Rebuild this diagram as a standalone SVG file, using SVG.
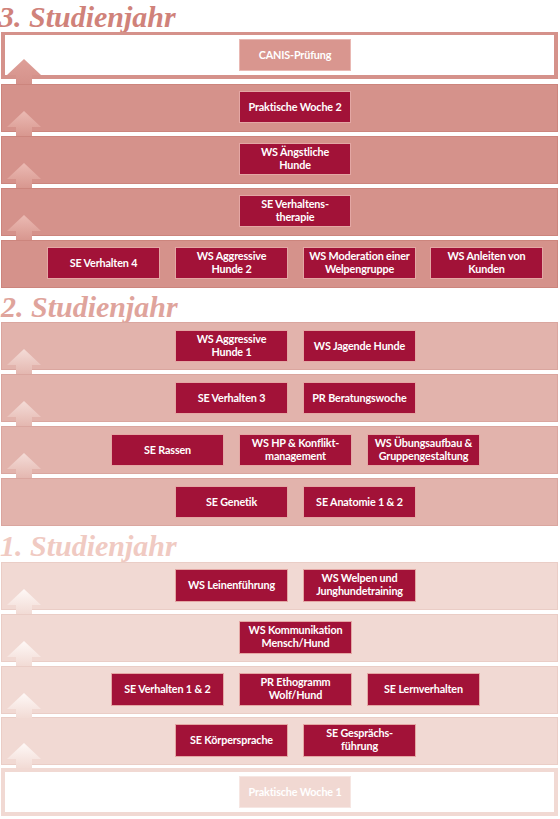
<svg xmlns="http://www.w3.org/2000/svg" xmlns:xlink="http://www.w3.org/1999/xlink" width="560" height="819" viewBox="0 0 560 819">
<style>
.title{font-family:"Liberation Serif",serif;font-style:italic;font-weight:bold;font-size:30px}
.b3{fill:#d5928b;stroke:#cc857d;stroke-width:1}
.b2{fill:#e2b3ac;stroke:#daa69f;stroke-width:1}
.b1{fill:#f1d9d3;stroke:#eacdc6;stroke-width:1}
.box{fill:#a21238;stroke:#e4a7a4;stroke-width:1}
.t{font-family:Lato,"Liberation Sans",sans-serif;font-weight:bold;font-size:10.8px;letter-spacing:-0.15px;fill:#ffffff;text-anchor:middle}
</style>
<defs>
<path id="arw" d="M24,27 L41,43 L32,43 L32,52 L16,52 L16,43 L7,43 Z"/>
<linearGradient id="g3a" x1="0" y1="0" x2="0" y2="1"><stop offset="0" stop-color="#de9f98"/><stop offset="1" stop-color="#d5928b"/></linearGradient>
<linearGradient id="g3" x1="0" y1="0" x2="0" y2="1"><stop offset="0" stop-color="#ebbab3"/><stop offset="1" stop-color="#d8978f"/></linearGradient>
<linearGradient id="g2" x1="0" y1="0" x2="0" y2="1"><stop offset="0" stop-color="#f4dcd7"/><stop offset="1" stop-color="#e4b7b0"/></linearGradient>
<linearGradient id="g1" x1="0" y1="0" x2="0" y2="1"><stop offset="0" stop-color="#fef8f6"/><stop offset="1" stop-color="#f2dbd5"/></linearGradient>
</defs>
<rect width="560" height="819" fill="#ffffff"/>

<g id="titles">
<text class="title" x="-1" y="27" fill="#d0827a">3. Studienjahr</text>
<text class="title" x="1" y="317" fill="#dfa49c">2. Studienjahr</text>
<text class="title" x="0" y="556" fill="#f0cac2">1. Studienjahr</text>
</g>

<g id="bands">
<rect x="1" y="32" width="557" height="47" fill="#d5928b"/>
<rect x="5" y="35" width="549" height="40" fill="#ffffff"/>
<rect class="b3" x="1.5" y="84.5" width="556" height="47"/>
<rect class="b3" x="1.5" y="136.5" width="556" height="47"/>
<rect class="b3" x="1.5" y="188.5" width="556" height="47"/>
<rect class="b3" x="1.5" y="240.5" width="556" height="47"/>

<rect class="b2" x="1.5" y="322.5" width="556" height="47"/>
<rect class="b2" x="1.5" y="374.5" width="556" height="47"/>
<rect class="b2" x="1.5" y="426.5" width="556" height="47"/>
<rect class="b2" x="1.5" y="478.5" width="556" height="47"/>

<rect class="b1" x="1.5" y="562.5" width="556" height="47"/>
<rect class="b1" x="1.5" y="614.5" width="556" height="47"/>
<rect class="b1" x="1.5" y="666.5" width="556" height="47"/>
<rect class="b1" x="1.5" y="717.5" width="556" height="47"/>
<rect x="1" y="768" width="557" height="48" fill="#f1d9d3"/>
<rect x="5" y="772" width="549" height="40" fill="#ffffff"/>
</g>

<g id="connectors">
<use xlink:href="#arw" transform="translate(0,32)" fill="url(#g3a)"/>
<use xlink:href="#arw" transform="translate(0,84)" fill="url(#g3)"/>
<use xlink:href="#arw" transform="translate(0,136)" fill="url(#g3)"/>
<use xlink:href="#arw" transform="translate(0,188)" fill="url(#g3)"/>
<use xlink:href="#arw" transform="translate(0,322)" fill="url(#g2)"/>
<use xlink:href="#arw" transform="translate(0,374)" fill="url(#g2)"/>
<use xlink:href="#arw" transform="translate(0,426)" fill="url(#g2)"/>
<use xlink:href="#arw" transform="translate(0,562)" fill="url(#g1)"/>
<use xlink:href="#arw" transform="translate(0,614)" fill="url(#g1)"/>
<use xlink:href="#arw" transform="translate(0,666)" fill="url(#g1)"/>
<use xlink:href="#arw" transform="translate(0,716)" fill="url(#g1)"/>
</g>

<!-- Year 3 -->
<g id="canis"><rect x="239.5" y="39.5" width="111" height="31" fill="#d9968f" stroke="#e9b8b3"/><text class="t" x="295" y="59">CANIS-Prüfung</text></g>
<g id="praktische-woche-2"><rect class="box" x="239.5" y="91.5" width="111" height="31"/><text class="t" x="295" y="111">Praktische Woche 2</text></g>
<g id="ws-aengstliche-hunde"><rect class="box" x="239.5" y="143.5" width="111" height="31"/><text class="t" x="295" y="156">WS Ängstliche</text><text class="t" x="295" y="169">Hunde</text></g>
<g id="se-verhaltenstherapie"><rect class="box" x="239.5" y="195.5" width="111" height="31"/><text class="t" x="295" y="208">SE Verhaltens-</text><text class="t" x="295" y="221">therapie</text></g>
<g id="se-verhalten-4"><rect class="box" x="47.5" y="247.5" width="112" height="31"/><text class="t" x="103.5" y="267">SE Verhalten 4</text></g>
<g id="ws-aggressive-hunde-2"><rect class="box" x="175.5" y="247.5" width="112" height="31"/><text class="t" x="231.5" y="260">WS Aggressive</text><text class="t" x="231.5" y="273">Hunde 2</text></g>
<g id="ws-moderation"><rect class="box" x="303.5" y="247.5" width="112" height="31"/><text class="t" x="359.5" y="260">WS Moderation einer</text><text class="t" x="359.5" y="273">Welpengruppe</text></g>
<g id="ws-anleiten"><rect class="box" x="430.5" y="247.5" width="112" height="31"/><text class="t" x="486.5" y="260">WS Anleiten von</text><text class="t" x="486.5" y="273">Kunden</text></g>

<!-- Year 2 -->
<g id="ws-aggressive-hunde-1"><rect class="box" x="175.5" y="330.5" width="112" height="31"/><text class="t" x="231.5" y="343">WS Aggressive</text><text class="t" x="231.5" y="356">Hunde 1</text></g>
<g id="ws-jagende-hunde"><rect class="box" x="303.5" y="330.5" width="112" height="31"/><text class="t" x="359.5" y="350">WS Jagende Hunde</text></g>
<g id="se-verhalten-3"><rect class="box" x="175.5" y="382.5" width="112" height="31"/><text class="t" x="231.5" y="402">SE Verhalten 3</text></g>
<g id="pr-beratungswoche"><rect class="box" x="303.5" y="382.5" width="112" height="31"/><text class="t" x="359.5" y="402">PR Beratungswoche</text></g>
<g id="se-rassen"><rect class="box" x="111.5" y="434.5" width="112" height="31"/><text class="t" x="167.5" y="454">SE Rassen</text></g>
<g id="ws-hp-konfliktmanagement"><rect class="box" x="239.5" y="434.5" width="112" height="31"/><text class="t" x="295.5" y="447">WS HP &amp; Konflikt-</text><text class="t" x="295.5" y="460">management</text></g>
<g id="ws-uebungsaufbau"><rect class="box" x="367.5" y="434.5" width="112" height="31"/><text class="t" x="423.5" y="447">WS Übungsaufbau &amp;</text><text class="t" x="423.5" y="460">Gruppengestaltung</text></g>
<g id="se-genetik"><rect class="box" x="175.5" y="486.5" width="112" height="31"/><text class="t" x="231.5" y="506">SE Genetik</text></g>
<g id="se-anatomie"><rect class="box" x="303.5" y="486.5" width="112" height="31"/><text class="t" x="359.5" y="506">SE Anatomie 1 &amp; 2</text></g>

<!-- Year 1 -->
<g id="ws-leinenfuehrung"><rect class="box" x="175.5" y="569.5" width="112" height="32"/><text class="t" x="231.5" y="589">WS Leinenführung</text></g>
<g id="ws-welpen"><rect class="box" x="303.5" y="569.5" width="112" height="32"/><text class="t" x="359.5" y="582">WS Welpen und</text><text class="t" x="359.5" y="595">Junghundetraining</text></g>
<g id="ws-kommunikation"><rect class="box" x="239.5" y="621.5" width="112" height="32"/><text class="t" x="295.5" y="634">WS Kommunikation</text><text class="t" x="295.5" y="647">Mensch/Hund</text></g>
<g id="se-verhalten-1-2"><rect class="box" x="111.5" y="673.5" width="112" height="32"/><text class="t" x="167.5" y="693">SE Verhalten 1 &amp; 2</text></g>
<g id="pr-ethogramm"><rect class="box" x="239.5" y="673.5" width="112" height="32"/><text class="t" x="295.5" y="686">PR Ethogramm</text><text class="t" x="295.5" y="699">Wolf/Hund</text></g>
<g id="se-lernverhalten"><rect class="box" x="367.5" y="673.5" width="112" height="32"/><text class="t" x="423.5" y="693">SE Lernverhalten</text></g>
<g id="se-koerpersprache"><rect class="box" x="175.5" y="724.5" width="112" height="32"/><text class="t" x="231.5" y="744">SE Körpersprache</text></g>
<g id="se-gespraechsfuehrung"><rect class="box" x="303.5" y="724.5" width="112" height="32"/><text class="t" x="359.5" y="737">SE Gesprächs-</text><text class="t" x="359.5" y="750">führung</text></g>
<g id="praktische-woche-1"><rect x="239.5" y="776.5" width="111" height="31" fill="#f1d8d2" stroke="#f6e6e2"/><text class="t" x="295" y="796">Praktische Woche 1</text></g>
</svg>
